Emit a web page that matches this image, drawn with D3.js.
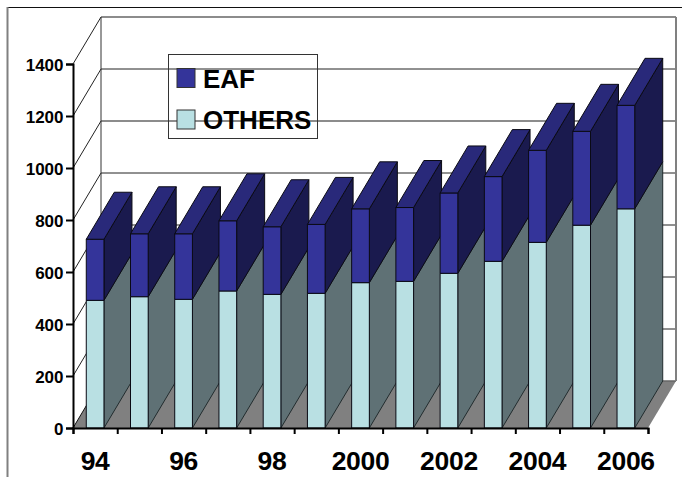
<!DOCTYPE html>
<html>
<head>
<meta charset="utf-8">
<script src="https://cdn.jsdelivr.net/npm/d3@7/dist/d3.min.js"></script>
<style>
  html, body { margin: 0; padding: 0; background: #fff; }
  svg { display: block; }
  text { font-family: "Liberation Sans", Arial, sans-serif; font-weight: bold; fill: #000; }
</style>
</head>
<body>
<svg id="chart" width="682" height="477"></svg>
<script>
// Production by process, stacked, one column per year
const years = ["94","95","96","97","98","99","2000","2001","2002","2003","2004","2005","2006"];
const yearLabels = ["94","96","98","2000","2002","2004","2006"];
const othersValues = [491,505,495,527,514,518,559,564,595,641,714,780,843];
const eafValues = [235,242,252,270,260,265,284,284,309,326,354,361,398];
const yTicks = [0,200,400,600,800,1000,1200,1400];
const legendItems = ["EAF","OTHERS"];

const colors = {
  others: { front: "#b9e0e3", side: "#5f7175", top: "#8fb0b3" },
  eaf:    { front: "#34349a", side: "#1a1a4e", top: "#29297a" }
};

const svg = d3.select("#chart");

// Front plane of the plot box and the offset of its rear wall
const plot = { left: 73, right: 648, top: 64, bottom: 428 };
const depth = { x: 28, y: -47 };

const y = d3.scaleLinear().domain([0, 1400]).range([plot.bottom, plot.top]);
const xBand = d3.scaleBand().domain(years).range([plot.left, plot.right])
  .paddingInner(0.6).paddingOuter(0.3);
const xEdge = d3.scaleLinear().domain([0, years.length]).range([plot.left, plot.right]);

const poly = pts => "M" + pts.map(p => p.join(",")).join("L") + "Z";
const back = ([px, py]) => [px + depth.x, py + depth.y];

// Outer frame: only its top and left edges show
svg.append("line").attr("x1", 7).attr("x2", 682).attr("y1", 7.5).attr("y2", 7.5)
  .attr("stroke", "#111").attr("stroke-width", 1);
svg.append("line").attr("x1", 7.5).attr("x2", 7.5).attr("y1", 7).attr("y2", 477)
  .attr("stroke", "#808080").attr("stroke-width", 2);

// Floor
svg.append("path")
  .attr("d", poly([[plot.left, plot.bottom], [plot.right, plot.bottom],
                   back([plot.right, plot.bottom]), back([plot.left, plot.bottom])]))
  .attr("fill", "#808080");
svg.append("line")
  .attr("x1", plot.left).attr("y1", plot.bottom)
  .attr("x2", plot.left + depth.x).attr("y2", plot.bottom + depth.y)
  .attr("stroke", "#111").attr("stroke-width", 1);

// Gridlines wrapping the left wall and the rear wall
const grid = svg.append("g").attr("fill", "none");
yTicks.forEach(t => {
  const yy = y(t);
  if (t > 0) {
    grid.append("line")
      .attr("x1", plot.left).attr("y1", yy)
      .attr("x2", plot.left + depth.x).attr("y2", yy + depth.y)
      .attr("stroke", "#222").attr("stroke-width", 1);
  }
  grid.append("line")
    .attr("x1", plot.left + depth.x).attr("y1", yy + depth.y)
    .attr("x2", plot.right + depth.x).attr("y2", yy + depth.y)
    .attr("stroke", t === 1400 || t === 1000 || t === 0 ? "#666" : "#222")
    .attr("stroke-width", t === 1400 || t === 1000 || t === 0 ? 1.5 : 1);
});
grid.append("line")
  .attr("x1", plot.left + depth.x).attr("x2", plot.left + depth.x)
  .attr("y1", y(1400) + depth.y).attr("y2", y(0) + depth.y)
  .attr("stroke", "#333").attr("stroke-width", 1);
grid.append("line")
  .attr("x1", plot.right + depth.x).attr("x2", plot.right + depth.x)
  .attr("y1", y(1400) + depth.y).attr("y2", y(0) + depth.y)
  .attr("stroke", "#808080").attr("stroke-width", 2);

// Extruded stacked columns, painted left to right so each overlaps the previous one
const bars = svg.append("g").attr("stroke", "#0a0a14").attr("stroke-width", 1).attr("stroke-linejoin", "round");
years.forEach((yr, i) => {
  const x0 = xBand(yr), x1 = x0 + xBand.bandwidth();
  const segments = [
    { lo: 0, hi: othersValues[i], c: colors.others, sideStroke: "#222c2e" },
    { lo: othersValues[i], hi: othersValues[i] + eafValues[i], c: colors.eaf, sideStroke: "#0a0a14" }
  ];
  segments.forEach(s => {
    const yLo = y(s.lo), yHi = y(s.hi);
    bars.append("path")
      .attr("d", poly([[x1, yLo], back([x1, yLo]), back([x1, yHi]), [x1, yHi]]))
      .attr("fill", s.c.side).attr("stroke", s.sideStroke);
  });
  segments.forEach(s => {
    const yLo = y(s.lo), yHi = y(s.hi);
    bars.append("rect")
      .attr("x", x0).attr("y", yHi)
      .attr("width", x1 - x0).attr("height", yLo - yHi)
      .attr("fill", s.c.front);
  });
  const s = segments[1], yTop = y(s.hi);
  bars.append("path")
    .attr("d", poly([[x0, yTop], [x1, yTop], back([x1, yTop]), back([x0, yTop])]))
    .attr("fill", s.c.top);
});

// Axes
const yAxis = svg.append("g")
  .attr("transform", `translate(${plot.left},0)`)
  .call(d3.axisLeft(y).tickValues(yTicks).tickSize(7).tickPadding(2.5).tickFormat(d3.format("d")));
yAxis.selectAll("text").style("font-size", "17px").attr("dy", "0.36em");

const xAxis = svg.append("g")
  .attr("transform", `translate(0,${plot.bottom})`)
  .call(d3.axisBottom(xEdge).tickValues(d3.range(years.length + 1)).tickSize(6).tickFormat(""));

[yAxis, xAxis].forEach(a => {
  a.select(".domain").attr("stroke", "#000").attr("stroke-width", 2);
  a.selectAll(".tick line").attr("stroke", "#000").attr("stroke-width", 2);
});

// Year labels under every second column
const xLabels = svg.append("g")
  .attr("transform", `translate(0,${plot.bottom})`)
  .call(d3.axisBottom(xBand).tickValues(yearLabels).tickSize(0).tickPadding(23));
xLabels.select(".domain").remove();
xLabels.selectAll("text").style("font-size", "26.5px").style("letter-spacing", "-0.3px");

// Legend
const legend = svg.append("g");
legend.append("rect")
  .attr("x", 168.5).attr("y", 54.5).attr("width", 149).attr("height", 84)
  .attr("fill", "none").attr("stroke", "#333").attr("stroke-width", 1);
const legendRow = d3.scaleOrdinal().domain(legendItems).range([68.5, 110]);
const legendFill = d3.scaleOrdinal().domain(legendItems).range([colors.eaf.front, colors.others.front]);
legendItems.forEach(name => {
  legend.append("rect")
    .attr("x", 177).attr("y", legendRow(name)).attr("width", 18).attr("height", 19)
    .attr("fill", legendFill(name)).attr("stroke", "#333").attr("stroke-width", 1);
  legend.append("text")
    .attr("x", 203).attr("y", legendRow(name) + 19)
    .style("font-size", "26px")
    .text(name);
});
</script>
</body>
</html>
